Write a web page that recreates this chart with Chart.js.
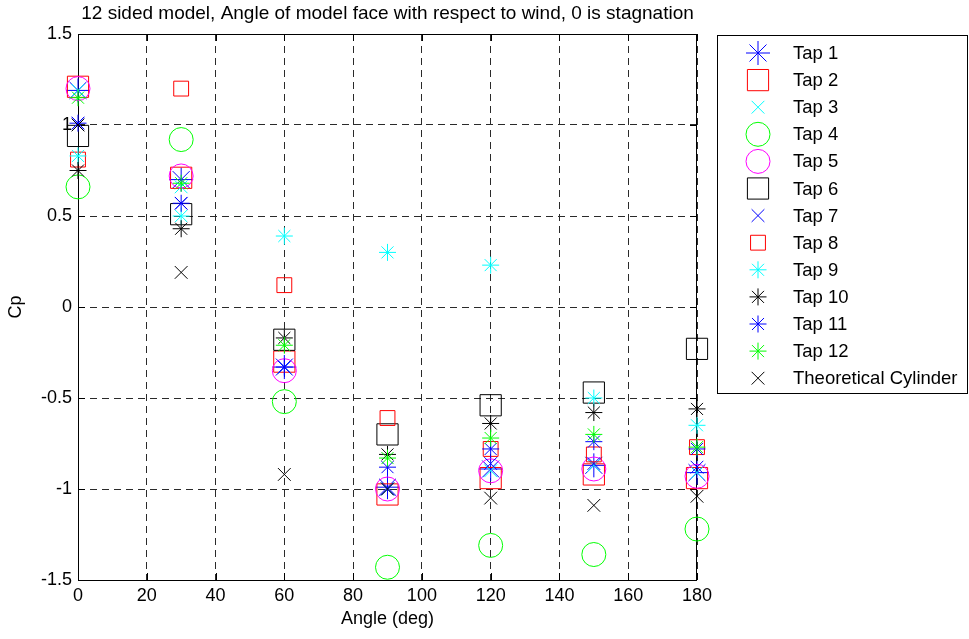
<!DOCTYPE html>
<html>
<head>
<meta charset="utf-8">
<script src="https://cdn.jsdelivr.net/npm/chart.js@4.4.0/dist/chart.umd.min.js"></script>
<style>
    html, body { margin: 0; padding: 0; background: #fff; }
</style>
</head>
<body>
<canvas id="grafico" width="969" height="639"></canvas>
<script>
// angulo da face (graus) e Cp de cada tomada
const angulos = [0, 30, 60, 90, 120, 150, 180]

const tap1 = [1.19, 0.70, -0.33, -0.99, -0.89, -0.87, -0.91]
const tap2 = [1.21, 0.71, -0.30, -1.03, -0.94, -0.92, -0.94]
const tap3 = [1.19, 0.66, -0.33, -1.00, -0.90, -0.87, -0.91]
const tap4 = [0.66, 0.92, -0.52, -1.43, -1.31, -1.36, -1.22]
const tap5 = [1.20, 0.72, -0.35, -1.00, -0.90, -0.89, -0.93]
const tap6 = [0.94, 0.51, -0.18, -0.70, -0.54, -0.47, -0.23]
const tap7 = [1.01, 0.57, -0.33, -1.00, -0.86, -0.86, -0.88]
const tap8 = [0.81, 1.20, 0.12, -0.61, -0.78, -0.81, -0.77]
const tap9 = [0.83, 0.50, 0.39, 0.30, 0.23, -0.50, -0.65]
const tap10 = [0.75, 0.43, -0.17, -0.81, -0.64, -0.58, -0.56]
const tap11 = [1.01, 0.57, -0.33, -0.88, -0.78, -0.74, -0.78]
const tap12 = [1.15, 0.68, -0.21, -0.83, -0.72, -0.70, -0.77]
const teorico = [1.00, 0.19, -0.92, -1.00, -1.05, -1.09, -1.04]

const ticksX = ['0', '20', '40', '60', '80', '100', '120', '140', '160', '180']
const ticksY = ['-1.5', '-1', '-0.5', '0', '0.5', '1', '1.5']

const familia = '"Liberation Sans", Arial, sans-serif'

function serie(label, valores, cor, estilo, raio) {
    return {
        label: label,
        data: angulos.map((a, i) => ({ x: a, y: valores[i] })),
        borderColor: cor,
        backgroundColor: 'rgba(0,0,0,0)',
        pointStyle: estilo,
        pointRadius: raio,
        pointBorderWidth: 1,
        clip: false
    }
}

const series = [
    serie('Tap 1', tap1, '#0000ff', 'star', 12),
    serie('Tap 2', tap2, '#ff0000', 'rect', 15),
    serie('Tap 3', tap3, '#00ffff', 'crossRot', 9),
    serie('Tap 4', tap4, '#00ff00', 'circle', 12),
    serie('Tap 5', tap5, '#ff00ff', 'circle', 12),
    serie('Tap 6', tap6, '#000000', 'rect', 15),
    serie('Tap 7', tap7, '#0000ff', 'crossRot', 9),
    serie('Tap 8', tap8, '#ff0000', 'rect', 10.5),
    serie('Tap 9', tap9, '#00ffff', 'star', 8.5),
    serie('Tap 10', tap10, '#000000', 'star', 8.5),
    serie('Tap 11', tap11, '#0000ff', 'star', 8.5),
    serie('Tap 12', tap12, '#00ff00', 'star', 8.5),
    serie('Theoretical Cylinder', teorico, '#000000', 'crossRot', 9)
]
// como no matlab: a ultima serie fica por cima
series.forEach((s, i) => { s.order = -i })

// caixa preta em volta e tracinhos para dentro
const caixaPlugin = {
    id: 'caixa',
    beforeDatasetsDraw(chart) {
        const { ctx, chartArea: a, scales } = chart
        ctx.save()
        ctx.strokeStyle = '#000'
        ctx.lineWidth = 1
        ctx.strokeRect(a.left + 0.5, a.top + 0.5, a.right - a.left - 1, a.bottom - a.top)
        ctx.beginPath()
        scales.x.ticks.forEach(t => {
            const x = Math.round(scales.x.getPixelForValue(t.value)) + 0.5
            ctx.moveTo(x, a.bottom); ctx.lineTo(x, a.bottom - 7)
            ctx.moveTo(x, a.top); ctx.lineTo(x, a.top + 7)
        })
        scales.y.ticks.forEach(t => {
            const y = Math.round(scales.y.getPixelForValue(t.value)) + 0.5
            ctx.moveTo(a.left, y); ctx.lineTo(a.left + 7, y)
            ctx.moveTo(a.right, y); ctx.lineTo(a.right - 7, y)
        })
        ctx.stroke()
        ctx.restore()
    }
}

// legenda com os marcadores no tamanho de cada serie
const legendaPlugin = {
    id: 'legenda',
    afterDraw(chart) {
        const ctx = chart.ctx
        ctx.save()
        ctx.fillStyle = '#fff'
        ctx.fillRect(717.5, 35.5, 250, 358)
        ctx.strokeStyle = '#000'
        ctx.lineWidth = 1
        ctx.strokeRect(717.5, 35.5, 250, 358)
        chart.data.datasets.forEach((ds, i) => {
            const y = 53 + i * 27.1
            ctx.strokeStyle = ds.borderColor
            ctx.fillStyle = 'rgba(0,0,0,0)'
            ctx.lineWidth = 1
            Chart.helpers.drawPoint(ctx, { pointStyle: ds.pointStyle, radius: ds.pointRadius, borderWidth: 1, rotation: 0 }, 758, y)
            ctx.fillStyle = '#000'
            ctx.font = '18.5px ' + familia
            ctx.textBaseline = 'middle'
            ctx.textAlign = 'left'
            ctx.fillText(ds.label, 793, y + 1)
        })
        ctx.restore()
    }
}

const fonteObj = { family: familia, size: 18 }

new Chart(document.getElementById('grafico'), {
    type: 'scatter',
    data: { datasets: series },
    options: {
        responsive: false,
        animation: false,
        events: [],
        layout: { padding: { left: 0, top: 0, right: 272, bottom: 0 } },
        plugins: {
            legend: { display: false },
            tooltip: { enabled: false },
            title: {
                display: true,
                fullSize: false,
                text: '12 sided model, Angle of model face with respect to wind, 0 is stagnation',
                color: '#000',
                font: { family: familia, size: 19, weight: 'normal', lineHeight: 1.1 },
                padding: { top: 3, bottom: 10.1 }
            }
        },
        scales: {
            x: {
                type: 'linear',
                min: 0,
                max: 180,
                ticks: {
                    stepSize: 20,
                    padding: 5,
                    color: '#000',
                    font: fonteObj,
                    maxRotation: 0,
                    callback: (v, i) => ticksX[i]
                },
                grid: { color: '#2a2a2a', drawTicks: false },
                border: { display: false, dash: [7, 5] },
                title: { display: true, text: 'Angle (deg)', color: '#000', font: fonteObj, padding: { top: 0, bottom: 9 } },
                afterFit: (s) => { s.height = 59 }
            },
            y: {
                type: 'linear',
                min: -1.5,
                max: 1.5,
                ticks: {
                    stepSize: 0.5,
                    padding: 6,
                    color: '#000',
                    font: fonteObj,
                    callback: (v, i) => ticksY[i]
                },
                grid: { color: '#2a2a2a', drawTicks: false },
                border: { display: false, dash: [7, 5] },
                title: { display: true, text: 'Cp', color: '#000', font: fonteObj, padding: { top: 5, bottom: 0 } },
                afterFit: (s) => { s.width = 78 }
            }
        }
    },
    plugins: [caixaPlugin, legendaPlugin]
})
</script>
</body>
</html>
